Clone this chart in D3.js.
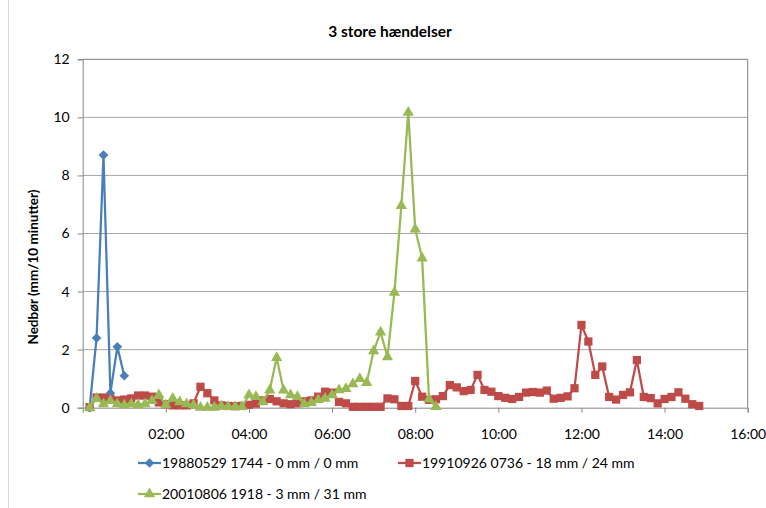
<!DOCTYPE html>
<html>
<head>
<meta charset="utf-8">
<script src="https://cdn.jsdelivr.net/npm/d3@7"></script>
<style>
  body { margin: 0; background: #fff; }
  svg { display: block; font-family: Lato, "Noto Sans", sans-serif; }
</style>
</head>
<body>
<div id="chart"></div>
<script>
// 10-minute rainfall (mm) for each event, first value at 00:10
var stepMinutes = 10;
var seriesNames = ["19880529 1744 - 0 mm / 0 mm", "19910926 0736 - 18 mm / 24 mm", "20010806 1918 - 3 mm / 31 mm"];
var rain1988 = [0, 2.4, 8.7, 0.5, 2.1, 1.1];
var rain1991 = [0.02, 0.35, 0.35, 0.3, 0.25, 0.28, 0.32, 0.42, 0.42, 0.38,
                0.18, 0.12, 0.08, 0.08, 0.08, 0.15, 0.72, 0.5, 0.25, 0.08,
                0.06, 0.05, 0.06, 0.1, 0.14, 0.25, 0.3, 0.22, 0.15, 0.12,
                0.15, 0.22, 0.25, 0.38, 0.55, 0.52, 0.2, 0.15, 0.03, 0.03,
                0.03, 0.03, 0.03, 0.32, 0.29, 0.06, 0.06, 0.92, 0.38, 0.27,
                0.29, 0.4, 0.78, 0.7, 0.57, 0.61, 1.13, 0.61, 0.55, 0.4,
                0.34, 0.3, 0.37, 0.52, 0.54, 0.52, 0.59, 0.31, 0.34, 0.39,
                0.67, 2.85, 2.28, 1.13, 1.42, 0.37, 0.28, 0.44, 0.53, 1.64,
                0.37, 0.33, 0.15, 0.3, 0.37, 0.53, 0.31, 0.12, 0.06];
var rain2001 = [0, 0.32, 0.13, 0.24, 0.13, 0.09, 0.13, 0.09, 0.13, 0.24,
                0.44, 0.09, 0.32, 0.2, 0.13, 0.09, 0.01, 0.01, 0.01, 0.06,
                0.03, 0.03, 0.03, 0.44, 0.38, 0.2, 0.6, 1.72, 0.6, 0.44,
                0.38, 0.13, 0.17, 0.27, 0.32, 0.44, 0.61, 0.65, 0.82, 1.0,
                0.86, 1.95, 2.6, 1.75, 3.97, 6.96, 10.17, 6.15, 5.15, 0.29, 0.03];
var xTicks = [120, 240, 360, 480, 600, 720, 840, 960];
var yTicks = [0, 2, 4, 6, 8, 10, 12];

var width = 766, height = 508;
var plotLeft = 82.7, plotRight = 747.7, plotTop = 59.3, plotBottom = 407.7;
var colors = ["#4a7ebb", "#be4b48", "#98b954"];
var shapes = [d3.symbolDiamond2, d3.symbolSquare, d3.symbolTriangle];
var sizes = [60, 68, 55];

var svg = d3.select("#chart").append("svg")
    .attr("width", width)
    .attr("height", height);

svg.append("line")
    .attr("x1", 8.5).attr("x2", 8.5)
    .attr("y1", 0).attr("y2", height)
    .style("stroke", "#d9d9d9");

var x = d3.scaleLinear().domain([0, 960]).range([plotLeft, plotRight]);
var y = d3.scaleLinear().domain([0, 12]).range([plotBottom, plotTop]);

function fmt(m){
    return d3.format("02")(Math.floor(m / 60)) + ":" + d3.format("02")(m % 60);
}

// gridlines
svg.append("g").selectAll("line")
    .data(yTicks.filter(function(d){ return d > 0; }))
    .enter().append("line")
    .attr("x1", plotLeft).attr("x2", plotRight)
    .attr("y1", function(d){ return y(d); })
    .attr("y2", function(d){ return y(d); })
    .style("stroke", function(d){ return d == 12 ? "#7f7f7f" : "#a6a6a6"; })
    .style("stroke-width", 1);

// plot border right
svg.append("line")
    .attr("x1", plotRight).attr("x2", plotRight)
    .attr("y1", plotTop).attr("y2", plotBottom)
    .style("stroke", "#7f7f7f");

// y axis
var yAxis = svg.append("g")
    .attr("transform", "translate(" + plotLeft + ",0)")
    .call(d3.axisLeft(y).tickValues(yTicks).tickSize(5).tickPadding(8));
yAxis.select(".domain").style("stroke", "#868686");
yAxis.selectAll(".tick line").style("stroke", "#868686");
yAxis.selectAll("text").style("font-size", "14px").style("fill", "#000")
    .style("font-family", "Lato, sans-serif");

// x axis
var xAxis = svg.append("g")
    .attr("transform", "translate(0," + plotBottom + ")")
    .call(d3.axisBottom(x).tickValues(xTicks).tickFormat(fmt).tickSize(5).tickPadding(16));
xAxis.select(".domain").style("stroke", "#868686");
xAxis.selectAll(".tick line").style("stroke", "#868686");
xAxis.selectAll("text").style("font-size", "14px").style("fill", "#000")
    .style("font-family", "Lato, sans-serif");

// title
svg.append("text")
    .attr("x", 390).attr("y", 37)
    .attr("text-anchor", "middle")
    .style("font-weight", "bold")
    .style("font-size", "15.5px")
    .text("3 store hændelser");

svg.append("text")
    .attr("transform", "translate(38,267) rotate(-90)")
    .attr("text-anchor", "middle")
    .style("font-weight", "bold")
    .style("font-size", "13.5px")
    .text("Nedbør (mm/10 minutter)");

var data = [rain1988, rain1991, rain2001].map(function(vals){
    return vals.map(function(v, i){ return {t: (i + 1) * stepMinutes, v: v}; });
});

var line = d3.line()
    .x(function(d){ return x(d.t); })
    .y(function(d){ return y(d.v); });

[0, 1, 2].forEach(function(k){
    var g = svg.append("g");
    g.append("path")
        .datum(data[k])
        .attr("d", line)
        .style("fill", "none")
        .style("stroke", colors[k])
        .style("stroke-width", 2.25)
        .style("stroke-linejoin", "round");
    g.selectAll("path.mark")
        .data(data[k])
        .enter().append("path")
        .attr("class", "mark")
        .attr("d", d3.symbol().type(shapes[k]).size(sizes[k]))
        .attr("transform", function(d){ return "translate(" + x(d.t) + "," + y(d.v) + ")"; })
        .style("fill", colors[k]);
});

// legend
var legendPos = [[138, 463], [398, 463], [138, 494]];
var legend = svg.selectAll(".legend")
    .data(seriesNames)
    .enter().append("g")
    .attr("class", "legend")
    .attr("transform", function(d, i){ return "translate(" + legendPos[i][0] + "," + legendPos[i][1] + ")"; });

legend.append("line")
    .attr("x1", 0).attr("x2", 23)
    .style("stroke", function(d, i){ return colors[i]; })
    .style("stroke-width", 2.25);
legend.append("path")
    .attr("d", function(d, i){ return d3.symbol().type(shapes[i]).size(sizes[i])(); })
    .attr("transform", "translate(11.5,0)")
    .style("fill", function(d, i){ return colors[i]; });
legend.append("text")
    .attr("x", 24).attr("y", 5)
    .style("font-size", "14px")
    .text(function(d){ return d; });
</script>
</body>
</html>
